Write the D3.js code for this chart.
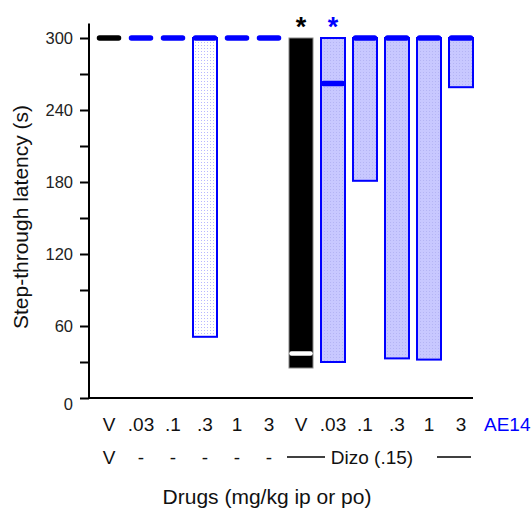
<!DOCTYPE html>
<html>
<head>
<meta charset="utf-8">
<script src="https://cdn.jsdelivr.net/npm/d3@7"></script>
<style>
  body { margin: 0; background: #fff; }
  svg { font-family: "Liberation Sans", Arial, sans-serif; }
</style>
</head>
<body>
<svg id="chart" width="531" height="509"></svg>
<script>
// doses of AE14 (first row) and pretreatment (second row)
const doses = ["V", ".03", ".1", ".3", "1", "3", "V", ".03", ".1", ".3", "1", "3"];
const pretreat = ["V", "-", "-", "-", "-", "-"];
// median and range of step-through latency (s)
const medians = [300, 300, 300, 300, 300, 300, 37, 262, 300, 300, 300, 300];
const highs = [300, 300, 300, 300, 300, 300, 300, 300, 300, 300, 300, 300];
const lows = [300, 300, 300, 51, 300, 300, 25, 30, 181, 33, 32, 259];
const stars = [6, 7];
const yTicks = [0, 30, 60, 90, 120, 150, 180, 210, 240, 270, 300];

const svg = d3.select("#chart");

const defs = svg.append("defs");
// pale dotted fill (vehicle group)
const p1 = defs.append("pattern").attr("id", "dots1")
  .attr("width", 3).attr("height", 3).attr("patternUnits", "userSpaceOnUse");
p1.append("rect").attr("width", 3).attr("height", 3).attr("fill", "#fff");
p1.append("rect").attr("width", 1).attr("height", 1).attr("fill", "#b8b8ff");
// lavender dotted fill (dizo group)
const p2 = defs.append("pattern").attr("id", "dots2")
  .attr("width", 3).attr("height", 3).attr("patternUnits", "userSpaceOnUse");
p2.append("rect").attr("width", 3).attr("height", 3).attr("fill", "#c8c8ff");
p2.append("rect").attr("width", 1).attr("height", 1).attr("fill", "#b4b4f4");

const x = d3.scaleBand()
  .domain(d3.range(doses.length))
  .range([93, 477])
  .paddingInner(0.25)
  .paddingOuter(0.125);

const y = d3.scaleLinear()
  .domain([0, 300])
  .range([398, 38]);

// y axis
const yAxis = svg.append("g")
  .attr("transform", "translate(89,0)")
  .call(d3.axisLeft(y)
    .tickValues(yTicks)
    .tickSize(9)
    .tickPadding(7)
    .tickFormat(d => d % 60 === 0 ? d : ""));
yAxis.select(".domain").remove();
yAxis.selectAll(".tick line").attr("stroke", "#000").attr("stroke-width", 2);
yAxis.selectAll(".tick text")
  .attr("font-size", 16.5)
  .attr("font-family", "Liberation Sans, Arial, sans-serif")
  .attr("fill", "#222")
  .attr("dy", d => d === 0 ? "0.7em" : "0.35em");
svg.append("line")
  .attr("x1", 89).attr("x2", 89)
  .attr("y1", y(312)).attr("y2", y(0) + 1)
  .attr("stroke", "#000").attr("stroke-width", 2);

// x axis line
svg.append("line")
  .attr("x1", 88).attr("x2", 473)
  .attr("y1", y(0)).attr("y2", y(0))
  .attr("stroke", "#000").attr("stroke-width", 2);

// bars (range)
const idx = d3.range(doses.length);
svg.selectAll(".bar")
  .data(idx.filter(i => lows[i] < highs[i]))
  .enter()
  .append("rect")
  .attr("class", "bar")
  .attr("x", i => x(i))
  .attr("width", x.bandwidth())
  .attr("y", i => y(highs[i]))
  .attr("height", i => y(lows[i]) - y(highs[i]))
  .attr("fill", i => i === 6 ? "#000" : (i < 6 ? "url(#dots1)" : "url(#dots2)"))
  .attr("stroke", i => i === 6 ? "#888" : "#0000ff")
  .attr("stroke-width", i => i === 6 ? 1 : 2);

// medians
svg.selectAll(".median")
  .data(idx)
  .enter()
  .append("line")
  .attr("class", "median")
  .attr("x1", i => x(i) + 2.5)
  .attr("x2", i => x(i) + x.bandwidth() - 2.5)
  .attr("y1", i => y(medians[i]))
  .attr("y2", i => y(medians[i]))
  .attr("stroke", i => i === 0 ? "#000" : (i === 6 ? "#fff" : "#0000ff"))
  .attr("stroke-width", i => i === 6 ? 4.5 : 5.5)
  .attr("stroke-linecap", "round");

// significance stars
svg.selectAll(".star")
  .data(stars)
  .enter()
  .append("text")
  .attr("class", "star")
  .attr("x", i => x(i) + x.bandwidth() / 2)
  .attr("y", 36)
  .attr("text-anchor", "middle")
  .attr("font-size", 27)
  .attr("font-weight", "bold")
  .attr("fill", i => i === 6 ? "#000" : "#0000ff")
  .text("*");

// dose labels (row 1)
svg.selectAll(".dose")
  .data(idx)
  .enter()
  .append("text")
  .attr("class", "dose")
  .attr("x", i => x(i) + x.bandwidth() / 2)
  .attr("y", 431)
  .attr("text-anchor", "middle")
  .attr("font-size", 19)
  .attr("fill", "#111")
  .text(i => doses[i]);
svg.append("text")
  .attr("x", 484).attr("y", 431)
  .attr("font-size", 19)
  .attr("fill", "#0000ff")
  .text("AE14");

// pretreatment labels (row 2)
svg.selectAll(".pre")
  .data(pretreat)
  .enter()
  .append("text")
  .attr("class", "pre")
  .attr("x", (d, i) => x(i) + x.bandwidth() / 2)
  .attr("y", 464)
  .attr("text-anchor", "middle")
  .attr("font-size", 19)
  .attr("fill", "#111")
  .text(d => d);
svg.append("text")
  .attr("x", 372).attr("y", 464)
  .attr("text-anchor", "middle")
  .attr("font-size", 19)
  .attr("fill", "#111")
  .text("Dizo (.15)");
svg.append("line")
  .attr("x1", 287).attr("x2", 325).attr("y1", 457).attr("y2", 457)
  .attr("stroke", "#000").attr("stroke-width", 1.5);
svg.append("line")
  .attr("x1", 437).attr("x2", 471).attr("y1", 457).attr("y2", 457)
  .attr("stroke", "#000").attr("stroke-width", 1.5);

// axis titles
svg.append("text")
  .attr("x", 267).attr("y", 504)
  .attr("text-anchor", "middle")
  .attr("font-size", 21)
  .attr("fill", "#111")
  .text("Drugs (mg/kg ip or po)");
svg.append("text")
  .attr("transform", "translate(28,217) rotate(-90)")
  .attr("text-anchor", "middle")
  .attr("font-size", 21)
  .attr("fill", "#111")
  .text("Step-through latency (s)");
</script>
</body>
</html>
